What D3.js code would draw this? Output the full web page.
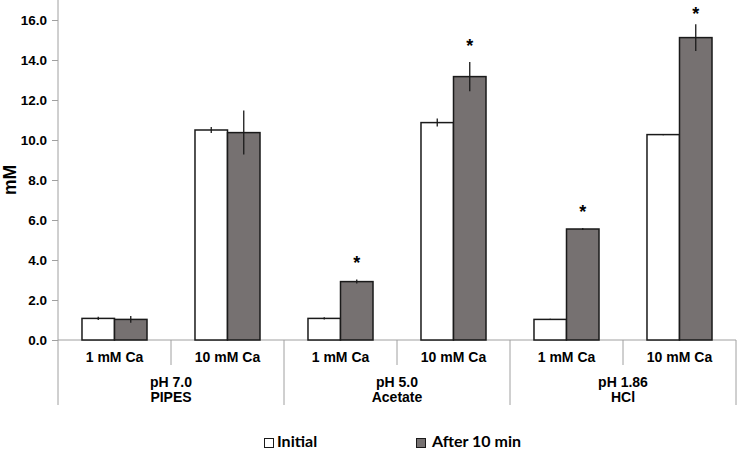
<!DOCTYPE html>
<html>
<head>
<meta charset="utf-8">
<script src="https://cdn.jsdelivr.net/npm/d3@7"></script>
<style>
  html, body { margin: 0; padding: 0; background: #fff; }
  svg { display: block; }
</style>
</head>
<body>
<svg id="chart" width="737" height="451"></svg>
<script>
// ---- data ----
const concLabels = ["1 mM Ca", "10 mM Ca", "1 mM Ca", "10 mM Ca", "1 mM Ca", "10 mM Ca"];
const groupLabels = [["pH 7.0", "PIPES"], ["pH 5.0", "Acetate"], ["pH 1.86", "HCl"]];
const seriesNames = ["Initial", "After 10 min"];
const initialVals = [1.08, 10.50, 1.08, 10.87, 1.03, 10.27];
const initialErr  = [0.08, 0.15, 0.06, 0.20, 0.03, 0.03];
const afterVals   = [1.03, 10.37, 2.92, 13.17, 5.55, 15.12];
const afterErr    = [0.17, 1.10, 0.10, 0.73, 0.05, 0.67];
const asteriskAt  = [null, null, 4.05, 14.9, 6.6, 16.5];
const yTicks = [0, 2, 4, 6, 8, 10, 12, 14, 16];
const yMax = 17;

// ---- layout ----
const svg = d3.select("#chart");
const axisColor = "#a0a0a0";
const grayFill = "#767171";
const left = 58, right = 736, baseY = 340, topY = 0;

const idx = d3.range(concLabels.length);
const x = d3.scaleBand().domain(idx).range([left, right]).paddingInner(0).paddingOuter(0);
const xs = d3.scaleBand().domain(seriesNames).range([0, x.bandwidth()]).paddingInner(0).paddingOuter(0.738);
const y = d3.scaleLinear().domain([0, yMax]).range([baseY, topY]);

const fontBold = "'Liberation Sans', Arial, sans-serif";

// y axis
const yAxis = d3.axisLeft(y).tickValues(yTicks).tickFormat(d3.format(".1f")).tickSize(6).tickPadding(5);
const gy = svg.append("g").attr("transform", `translate(${left},0)`).call(yAxis);
gy.select(".domain").remove();
gy.selectAll(".tick line").attr("stroke", axisColor);
gy.selectAll(".tick text")
  .attr("font-family", fontBold).attr("font-weight", "bold").attr("font-size", 13.5)
  .attr("fill", "#000").attr("dy", "0.35em");

// axis lines
svg.append("line").attr("x1", left).attr("x2", left).attr("y1", y(yMax)).attr("y2", 405)
  .attr("stroke", axisColor).attr("stroke-width", 1);
svg.append("line").attr("x1", left).attr("x2", right).attr("y1", baseY).attr("y2", baseY)
  .attr("stroke", axisColor).attr("stroke-width", 1);

// category dividers
idx.forEach(i => {
  if (i === 0) return;
  const xx = x(i);
  const long = i % 2 === 0;
  svg.append("line").attr("x1", xx).attr("x2", xx).attr("y1", baseY).attr("y2", long ? 405 : 365)
    .attr("stroke", axisColor);
});
svg.append("line").attr("x1", right).attr("x2", right).attr("y1", baseY).attr("y2", 405)
  .attr("stroke", axisColor);

// category labels
svg.append("g").selectAll("text").data(idx).join("text")
  .attr("x", i => x(i) + x.bandwidth() / 2).attr("y", 362)
  .attr("text-anchor", "middle").attr("font-family", fontBold).attr("font-weight", "bold")
  .attr("font-size", 14).attr("fill", "#000").text(i => concLabels[i]);

// group labels
groupLabels.forEach((g, gi) => {
  const cx = (x(gi * 2) + x(gi * 2 + 1) + x.bandwidth()) / 2;
  g.forEach((t, li) => {
    svg.append("text").attr("x", cx).attr("y", li === 0 ? 387 : 402)
      .attr("text-anchor", "middle").attr("font-family", fontBold).attr("font-weight", "bold")
      .attr("font-size", 14).attr("fill", "#000").text(t);
  });
});

// bars
const bars = [];
idx.forEach(i => {
  bars.push({i, s: seriesNames[0], v: initialVals[i], e: initialErr[i], fill: "#fff"});
  bars.push({i, s: seriesNames[1], v: afterVals[i], e: afterErr[i], fill: grayFill});
});
const gb = svg.append("g");
gb.selectAll("rect").data(bars).join("rect")
  .attr("x", d => x(d.i) + xs(d.s)).attr("width", xs.bandwidth())
  .attr("y", d => y(d.v)).attr("height", d => y(0) - y(d.v))
  .attr("fill", d => d.fill).attr("stroke", "#1a1a1a").attr("stroke-width", 1.5);

// error bars
gb.selectAll("line.err").data(bars).join("line").attr("class", "err")
  .attr("x1", d => x(d.i) + xs(d.s) + xs.bandwidth() / 2)
  .attr("x2", d => x(d.i) + xs(d.s) + xs.bandwidth() / 2)
  .attr("y1", d => y(d.v + d.e)).attr("y2", d => y(d.v - d.e))
  .attr("stroke", "#1a1a1a").attr("stroke-width", 1.3);

// significance asterisks
const astFs = 18;
svg.append("g").selectAll("text").data(idx.filter(i => asteriskAt[i] !== null)).join("text")
  .attr("x", i => x(i) + xs(seriesNames[1]) + xs.bandwidth() / 2)
  .attr("y", i => y(asteriskAt[i]) + 0.57 * astFs)
  .attr("text-anchor", "middle").attr("font-family", fontBold).attr("font-weight", "bold")
  .attr("font-size", astFs).attr("fill", "#000").text("*");

// y title
svg.append("text").attr("transform", "translate(16,180) rotate(-90)")
  .attr("text-anchor", "middle").attr("font-family", fontBold).attr("font-weight", "bold")
  .attr("font-size", 17.5).attr("fill", "#000").text("mM");

// legend
const legend = [
  {name: seriesNames[0], fill: "#fff", bx: 264.5, tx: 277},
  {name: seriesNames[1], fill: grayFill, bx: 416.5, tx: 432}
];
const gl = svg.append("g");
legend.forEach(l => {
  gl.append("rect").attr("x", l.bx).attr("y", 438.5).attr("width", 9).attr("height", 9)
    .attr("fill", l.fill).attr("stroke", "#1a1a1a").attr("stroke-width", 1);
  gl.append("text").attr("x", l.tx).attr("y", 447)
    .attr("font-family", "Lato, 'Open Sans', sans-serif").attr("font-weight", "bold")
    .attr("font-size", 16).attr("fill", "#000").text(l.name);
});
</script>
</body>
</html>
